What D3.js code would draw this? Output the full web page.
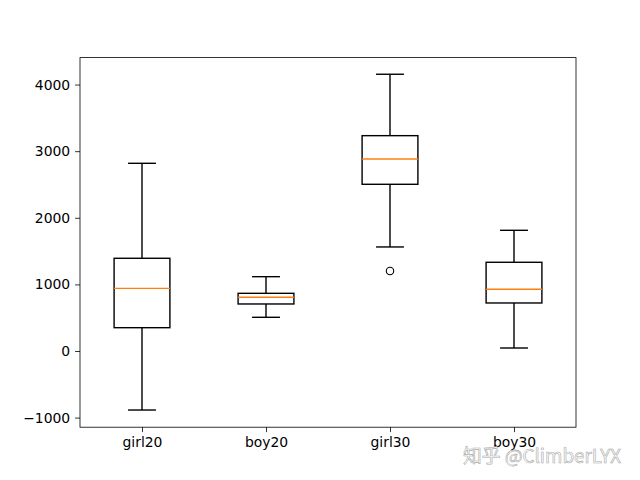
<!DOCTYPE html>
<html><head><meta charset="utf-8">
<script src="https://cdn.jsdelivr.net/npm/d3@7"></script>
<style>body{margin:0;background:#fff}svg{display:block}</style>
</head><body>
<script>
const categories = ["girl20","boy20","girl30","boy30"];
const whiskerLow  = [-886, 506, 1562, 45];
const q1          = [350, 706, 2503, 721];
const medians     = [941, 806, 2883, 926];
const q3          = [1392, 866, 3233, 1332];
const whiskerHigh = [2818, 1116, 4155, 1812];
const outliers    = [[], [], [1201], []];
const yTicks = [-1000, 0, 1000, 2000, 3000, 4000];

const W = 640, H = 480;
const L = 80, R = 576, T = 57.6, B = 427.2;
const svg = d3.select("body").append("svg").attr("width", W).attr("height", H);
const x = d3.scaleLinear().domain([0.5, 4.5]).range([L, R]);
const y = d3.scaleLinear().domain([-1144, 4405]).range([B, T]);
const font = "'DejaVu Sans', sans-serif";

const g = svg.append("g");
const bw = 0.45, cw = 0.225;
categories.forEach((c, i) => {
  const p = i + 1;
  const gx = g.append("g").attr("fill", "none").attr("stroke", "#000").attr("stroke-width", 1.4);
  gx.append("line").attr("x1", x(p)).attr("x2", x(p)).attr("y1", y(q1[i])).attr("y2", y(whiskerLow[i]));
  gx.append("line").attr("x1", x(p)).attr("x2", x(p)).attr("y1", y(q3[i])).attr("y2", y(whiskerHigh[i]));
  gx.append("line").attr("x1", x(p - cw/2)).attr("x2", x(p + cw/2)).attr("y1", y(whiskerLow[i])).attr("y2", y(whiskerLow[i]));
  gx.append("line").attr("x1", x(p - cw/2)).attr("x2", x(p + cw/2)).attr("y1", y(whiskerHigh[i])).attr("y2", y(whiskerHigh[i]));
  gx.append("rect").attr("x", x(p - bw/2)).attr("width", x(p + bw/2) - x(p - bw/2))
    .attr("y", y(q3[i])).attr("height", y(q1[i]) - y(q3[i]));
  g.append("line").attr("x1", x(p - bw/2)).attr("x2", x(p + bw/2)).attr("y1", y(medians[i])).attr("y2", y(medians[i]))
    .attr("stroke", "#ff7f0e").attr("stroke-width", 1.4);
  outliers[i].forEach(v => {
    g.append("circle").attr("cx", x(p)).attr("cy", y(v)).attr("r", 3.7)
      .attr("fill", "none").attr("stroke", "#000").attr("stroke-width", 1.1);
  });
});

const yAxis = d3.axisLeft(y).tickValues(yTicks).tickSize(4.9).tickPadding(4.9).tickFormat(d => d < 0 ? "\u2212" + Math.abs(d) : d);
const ya = svg.append("g").attr("transform", `translate(${L},0)`).call(yAxis);
const xAxis = d3.axisBottom(x).tickValues([1,2,3,4]).tickSize(4.9).tickPadding(4.9).tickFormat(d => categories[d-1]);
const xa = svg.append("g").attr("transform", `translate(0,${B})`).call(xAxis);
[ya, xa].forEach(a => {
  a.select(".domain").remove();
  a.selectAll(".tick line").attr("stroke", "#000").attr("stroke-width", 0.8);
  a.selectAll("text").attr("font-family", font).attr("font-size", "13.9px").attr("fill", "#000");
});
svg.append("rect").attr("x", L).attr("y", T).attr("width", R - L).attr("height", B - T)
  .attr("fill", "none").attr("stroke", "#000").attr("stroke-width", 0.8);

// watermark
svg.append("text").attr("x", 463).attr("y", 463).text("知乎 @ClimberLYX")
  .attr("font-family", "'Noto Sans CJK SC', sans-serif").attr("font-size", "18.8px")
  .attr("fill", "#fff").attr("fill-opacity", 0.6).attr("stroke", "#aaa").attr("stroke-width", 0.6);
</script>
</body></html>
